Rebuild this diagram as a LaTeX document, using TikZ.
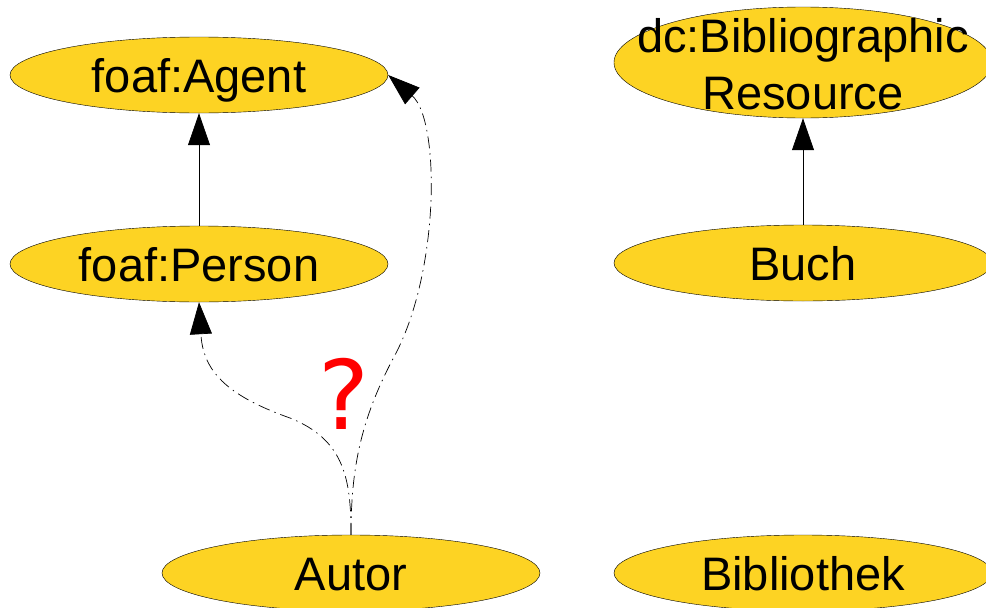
\documentclass[tikz,border=0pt]{standalone}
\usepackage{fontspec}
\setmainfont{Liberation Sans}
\newfontfamily\qmfont{DejaVu Sans}
\usetikzlibrary{shapes.geometric,arrows.meta}

\definecolor{classyellow}{RGB}{253,211,35}
\tikzset{
  cls/.style={ellipse,draw=black,fill=classyellow,minimum width=378pt,minimum height=76pt,inner sep=0pt},
  every label/.style={font=\fontsize{47}{57}\selectfont,align=center,inner sep=0pt,text height=34pt,text depth=10pt,yshift=-5pt},
  sub/.style={line width=0.7pt,-{Triangle[length=32pt,width=22pt]}},
  guess/.style={sub,dash pattern=on 12pt off 5pt on 1.5pt off 5pt}
}

\begin{document}
\begin{tikzpicture}[x=1pt,y=-1pt]
\useasboundingbox (0,0) rectangle (986,608);
% classes
\node[cls,label={center:{foaf:Agent}}] (agent) at (199,75) {};
\node[cls,label={center:{foaf:Person}}] (person) at (199,264) {};
\node[cls,label={center:{Autor}}] (autor) at (351,573) {};
\node[cls,label={[text height=,text depth=,yshift=3pt]center:{dc:Bibliographic\\Resource}},minimum height=111pt] (dc) at (803,62.5) {};
\node[cls,label={center:{Buch}}] (buch) at (803,263) {};
\node[cls,label={center:{Bibliothek}}] (bib) at (803,573) {};
% subclass
\draw[sub] (person) -- (agent);
\draw[sub] (buch) -- (dc);
% open question
\draw[guess] (autor.north) .. controls (351,480) and (345,440) .. (290,418)
  .. controls (225,395) and (203,370) .. (person.south);
\draw[guess] (autor.north) .. controls (351,470) and (360,420) .. (395,355)
  .. controls (440,270) and (440,120) .. (agent.east);
\node[text=red,font=\qmfont\fontsize{96}{100}\selectfont] (q) at (344,394) {?};
\end{tikzpicture}
\end{document}
